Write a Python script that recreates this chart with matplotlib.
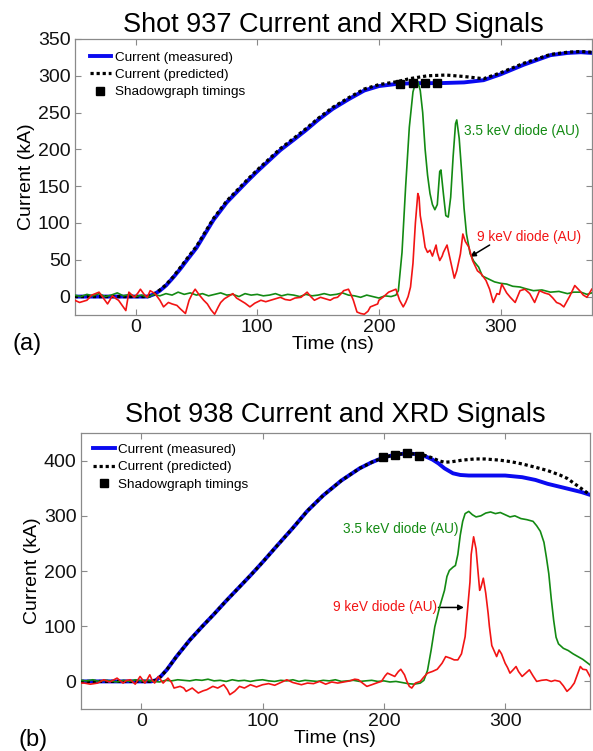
import matplotlib
matplotlib.use("Agg")
import matplotlib.pyplot as plt

plt.rcParams['font.family'] = ['Liberation Sans', 'DejaVu Sans']

# ---------------- Shot 937 ----------------
t_meas_937 = [-50, 0, 10, 15, 20, 25, 31, 37, 42, 50, 57, 64, 75, 92, 100, 119, 130, 140,
              150, 162, 175, 188, 200, 215, 230, 250, 270, 286, 300, 319, 341, 355, 366, 375]
i_meas_937 = [0, 0, 0, 3, 8, 15, 26, 38, 49, 66, 85, 104, 128, 157, 170, 199, 213, 226,
              240, 255, 268, 280, 286, 289, 290, 290, 291, 294, 302, 315, 328, 331, 332, 331]

t_pred_937 = [-50, 10, 15, 20, 25, 31, 37, 42, 50, 57, 64, 75, 92, 100, 119, 130, 140, 150,
              162, 175, 188, 200, 215, 225, 240, 255, 270, 286, 300, 319, 341, 355, 366, 375]
i_pred_937 = [0, 0, 3, 9, 16, 27, 40, 51, 68, 87, 106, 130, 159, 172, 201, 215, 228, 242,
              257, 270, 282, 288, 292, 296, 300, 301, 299, 296, 304, 317, 329, 332, 333, 332]

t_shadow_937 = [217, 228, 238, 248]
i_shadow_937 = [289, 290, 290, 290]

t_xrd35_937 = [-50, -45, -40, -35, -30, -25, -20, -15, -10, -5, 0, 5, 10, 15, 20, 25, 30, 35,
               40, 45, 50, 55, 60, 65, 70, 75, 80, 85, 90, 95, 100, 105, 110, 115, 120, 125,
               130, 135, 140, 145, 150, 155, 160, 165, 170, 175, 180, 185, 190, 195, 200, 205,
               210, 214, 216, 219, 222, 225, 228, 230, 232, 234, 236, 238, 240, 242, 244, 246,
               248, 250, 251, 253, 255, 257, 259, 261, 263, 264, 266, 268, 270, 272, 275, 278,
               282, 285, 290, 295, 300, 305, 310, 316, 320, 327, 334, 341, 348, 355, 360, 366,
               371, 375]
v_xrd35_937 = [2, 0, 3, 1, 4, 0, 2, 5, 1, 3, 0, 2, -1, 3, 1, 4, 2, 6,
               3, 5, 2, 4, 1, 3, 5, 2, 3, 0, 4, 2, 3, 1, 2, 4, 1, 3,
               2, 0, 3, 1, 2, 4, 2, 3, 5, 2, 1, -1, 2, 0, -2, 1,
               0, 2, 8, 60, 150, 230, 278, 290, 292, 280, 250, 200, 165, 140, 125, 118,
               125, 170, 172, 140, 110, 108, 135, 190, 235, 240, 215, 170, 120, 85, 58, 48,
               40, 28, 24, 20, 18, 17, 14, 13, 11, 8, 9, 6, 7, 4, 6, 6,
               3, 5]

t_xrd9_937 = [-50, -46, -40, -36, -30, -26, -23, -19, -16, -14, -11, -8, -5.5, -3, -1, 2, 4,
              7, 9.6, 12, 16, 20, 23, 27, 30, 34, 37, 41, 44, 47, 49, 52, 56, 59, 62, 65, 68,
              70, 73, 77, 80, 83, 86, 90, 94, 98, 103, 107, 111, 115, 119, 123, 127, 131, 136,
              141, 144, 147, 152, 156, 160, 163, 166, 169, 171, 175, 177, 179, 182, 185, 188,
              191, 193, 196, 199, 200, 204, 208, 211, 214, 217, 220, 222, 224, 226, 228, 230,
              232, 233, 234, 236, 238, 240, 242, 244, 247, 248, 250, 252, 253, 256, 258, 260,
              262, 264, 267, 269, 271, 274, 277, 281, 284, 288, 291, 294, 297, 299, 301, 305,
              308, 312, 316, 320, 324, 328, 332, 336, 340, 343, 346, 349, 352, 357, 361, 365,
              368, 371, 375]
v_xrd9_937 = [-5, -8, -5, 2, 6, -3, -10, 1, -3, -5, -12, -19, 6, 2, -1, 5, 10,
              3, -1, 8, 4, -5, -14, -8, -10, -12, -17, -23, -5, 5, 10, 3, -5, -10, -18, -24, -14,
              -8, -3, 1, 4, -2, -5, -9, -14, -9, -5, -7, -5, -3, -1, -4, -5, -2, -1,
              6, 0, -5, -1, -3, -5, -2, -1, 4, 8, 10, 3, -5, -21, -23, -24,
              -20, -14, -12, -10, -5, 0, 6, 8, 10, -5, -14, -8, 0, 13, 45, 100,
              140, 135, 110, 90, 67, 60, 63, 55, 70, 60, 49, 55, 60, 70, 55, 40,
              25, 35, 58, 85, 75, 67, 49, 35, 31, 22, 10, -8, 4, 3, 17, 5,
              -1, -8, 8, 10, 4, -8, 8, 5, 3, -2, -8, -10, -14, 1, 15, 8,
              2, -1, 10]

# ---------------- Shot 938 ----------------
t_meas_938 = [-50, 8, 12, 16, 21, 29, 40, 50, 60, 70, 80, 90, 100, 112, 125, 137, 150, 165,
              180, 190, 200, 210, 218, 226, 233, 240, 245, 250, 257, 263, 270, 289, 300, 314,
              325, 335, 350, 363, 370]
i_meas_938 = [0, 0, 2, 9, 21, 45, 75, 99, 122, 146, 169, 192, 216, 246, 278, 309, 337, 364,
              386, 397, 406, 411, 413, 412, 409, 402, 395, 386, 377, 374, 373, 373, 373, 370,
              365, 358, 350, 343, 338]

t_pred_938 = [-50, 8, 12, 16, 21, 29, 40, 50, 60, 70, 80, 90, 100, 112, 125, 137, 150, 165,
              180, 190, 200, 210, 218, 226, 233, 240, 245, 250, 256, 265, 275, 283, 295, 305,
              314, 325, 335, 345, 351, 358, 365, 370]
i_pred_938 = [0, 0, 2, 9, 21, 45, 75, 99, 122, 146, 169, 192, 216, 246, 278, 309, 337, 364,
              386, 397, 406, 411, 413, 412, 410, 405, 400, 397, 398, 401, 403, 403, 401, 398,
              394, 388, 382, 374, 368, 357, 346, 338]

t_shadow_938 = [199, 209, 219, 229]
i_shadow_938 = [406, 411, 413, 409]

t_xrd35_938 = [-50, -45, -40, -35, -30, -25, -20, -15, -10, -5, 0, 5, 10, 15, 20, 25, 30, 35,
               40, 45, 50, 55, 60, 65, 70, 75, 80, 85, 90, 95, 100, 105, 110, 115, 120, 125,
               130, 135, 140, 145, 150, 155, 160, 165, 170, 175, 180, 185, 190, 195, 200, 205,
               210, 215, 220, 225, 230, 233, 236, 239, 242, 246, 250, 252, 254, 257, 259, 261,
               263, 265, 267, 270, 273, 276, 280, 284, 288, 292, 296, 300, 304, 308, 313, 318,
               323, 326, 329, 332, 334, 336, 338, 340, 342, 344, 348, 352, 356, 360, 364, 367,
               370]
v_xrd35_938 = [2, 1, 3, 0, 2, 1, -1, 2, 0, 3, 1, 2, 0, -1, 2, 1, 3, 2,
               1, 3, 2, 4, 1, 2, 0, 3, 1, 2, 0, 2, 3, 1, 0, 2, 1, 3,
               0, 2, 1, 0, 2, 1, 3, 0, 1, 2, 0, 1, 2, 0, 1, -1,
               0, -2, -4, -5, -3, 2, 20, 57, 99, 135, 165, 190, 201, 207, 210, 230,
               265, 290, 304, 308, 302, 298, 300, 305, 307, 304, 306, 302, 298, 300, 295, 293,
               290, 282, 272, 252, 225, 195, 150, 111, 80, 68, 60, 56, 50, 45, 40, 35,
               30]

t_xrd9_938 = [-50, -47, -42, -36, -31, -26, -20, -15, -12, -9, -5, -1, 3, 5, 7, 9, 11, 14, 16,
              18, 22, 25, 27, 32, 35, 37, 42, 47, 51, 54, 59, 63, 68, 71, 73, 77, 81, 85, 90,
              95, 100, 105, 110, 115, 120, 125, 132, 137, 142, 147, 152, 157, 162, 167, 172,
              176, 179, 183, 186, 190, 195, 198, 201, 203, 206, 209, 212, 214, 217, 219, 221,
              223, 226, 230, 233, 236, 240, 244, 248, 251, 255, 258, 261, 264, 267, 269, 271,
              272, 274, 276, 277, 279, 280, 282, 284, 286, 287, 289, 291, 293, 295, 297, 300,
              302, 304, 307, 309, 311, 314, 317, 320, 323, 326, 330, 334, 338, 341, 345, 348,
              351, 354, 357, 360, 362, 364, 367, 370]
v_xrd9_938 = [-3, -3, -5, -3, 3, -1, 6, -3, 2, 3, -5, 9, -3, 4, 12, 2, -3, 9, 3,
              -3, 6, -2, -12, -9, -12, -18, -12, -21, -17, -15, -9, -12, -6, -15, -24, -18, -9, -12, -6,
              -10, -6, -4, -7, -2, 3, -2, -6, -3, -4, 0, -5, -1, -3, -1, 1,
              4, 3, -4, -9, -6, -2, 0, 10, 15, 12, 9, 18, 22, 12, 0, -9,
              -12, -3, 0, 8, 15, 18, 22, 33, 45, 42, 39, 39, 50, 81, 130, 180,
              230, 262, 240, 215, 165, 170, 187, 160, 123, 100, 65, 55, 45, 57, 50, 33,
              25, 15, 22, 27, 18, 9, 15, 21, 10, 0, 2, 3, 0, 2, 0, -8,
              -18, -12, -3, 15, 27, 22, 21, 9]

x_ticks = [0, 100, 200, 300]
y_ticks_937 = [0, 50, 100, 150, 200, 250, 300, 350]
y_ticks_938 = [0, 100, 200, 300, 400]

BLUE = '#0a0af0'
GREEN = '#138a13'
RED = '#f21414'
SPINE = '#8a8a8a'

fig = plt.figure(figsize=(5.93, 7.51), dpi=100)
ax1 = fig.add_axes([0.126, 0.5806, 0.872, 0.3675])
ax2 = fig.add_axes([0.136, 0.0559, 0.859, 0.3675])


def draw_panel(ax, tm, im, tp, ip, ts, is_, tg, vg, tr, vr):
    ax.plot(tm, im, color=BLUE, lw=2.8, label='Current (measured)', zorder=2)
    ax.plot(tp, ip, color='black', lw=2.3, ls=(0, (1.0, 0.9)),
            label='Current (predicted)', zorder=3)
    ax.plot(ts, is_, ls='none', marker='s', ms=5.5, color='black',
            label='Shadowgraph timings', zorder=5)
    ax.plot(tg, vg, color=GREEN, lw=1.2, zorder=4)
    ax.plot(tr, vr, color=RED, lw=1.2, zorder=4)
    for s in ax.spines.values():
        s.set_color(SPINE)
        s.set_linewidth(0.9)
    ax.tick_params(direction='in', top=True, right=True, length=4, width=0.8,
                   color=SPINE, labelsize=14, labelcolor='#111111', pad=3)
    ax.set_xticks(x_ticks)
    ax.set_xlabel('Time (ns)', fontsize=14, labelpad=0)
    ax.set_ylabel('Current (kA)', fontsize=14, labelpad=2)


legend_style = dict(loc='upper left', frameon=False, fontsize=9.7, borderaxespad=0,
                    borderpad=0, handlelength=1.6, handletextpad=0.25, labelspacing=0.36)

draw_panel(ax1, t_meas_937, i_meas_937, t_pred_937, i_pred_937, t_shadow_937, i_shadow_937,
           t_xrd35_937, v_xrd35_937, t_xrd9_937, v_xrd9_937)
ax1.set_xlim(-50, 375)
ax1.set_ylim(-25, 350)
ax1.set_yticks(y_ticks_937)
ax1.set_title('Shot 937 Current and XRD Signals', fontsize=19.5, pad=5)
ax1.legend(bbox_to_anchor=(0.029, 0.955), **legend_style)
ax1.text(270, 225, '3.5 keV diode (AU)', color=GREEN, fontsize=9.8, va='center', ha='left')
ax1.text(281, 81, '9 keV diode (AU)', color=RED, fontsize=9.8, va='center', ha='left')
ax1.annotate('', xy=(275, 54), xytext=(291, 70),
             arrowprops=dict(arrowstyle='-|>', color='black', lw=1.1, mutation_scale=8,
                             shrinkA=0, shrinkB=0))

draw_panel(ax2, t_meas_938, i_meas_938, t_pred_938, i_pred_938, t_shadow_938, i_shadow_938,
           t_xrd35_938, v_xrd35_938, t_xrd9_938, v_xrd9_938)
ax2.set_xlim(-50, 370)
ax2.set_ylim(-50, 450)
ax2.set_yticks(y_ticks_938)
ax2.set_title('Shot 938 Current and XRD Signals', fontsize=19.5, pad=8)
ax2.legend(bbox_to_anchor=(0.025, 0.962), **legend_style)
ax2.text(166, 277, '3.5 keV diode (AU)', color=GREEN, fontsize=9.8, va='center', ha='left')
ax2.text(158, 134, '9 keV diode (AU)', color=RED, fontsize=9.8, va='center', ha='left')
ax2.annotate('', xy=(266, 134), xytext=(245, 134),
             arrowprops=dict(arrowstyle='-|>', color='black', lw=1.1, mutation_scale=8,
                             shrinkA=0, shrinkB=0))

fig.text(27 / 593, 1 - 344 / 751, '(a)', fontsize=17, ha='center', va='center')
fig.text(33 / 593, 1 - 740 / 751, '(b)', fontsize=17, ha='center', va='center')

fig.savefig('out.png', dpi=100)
